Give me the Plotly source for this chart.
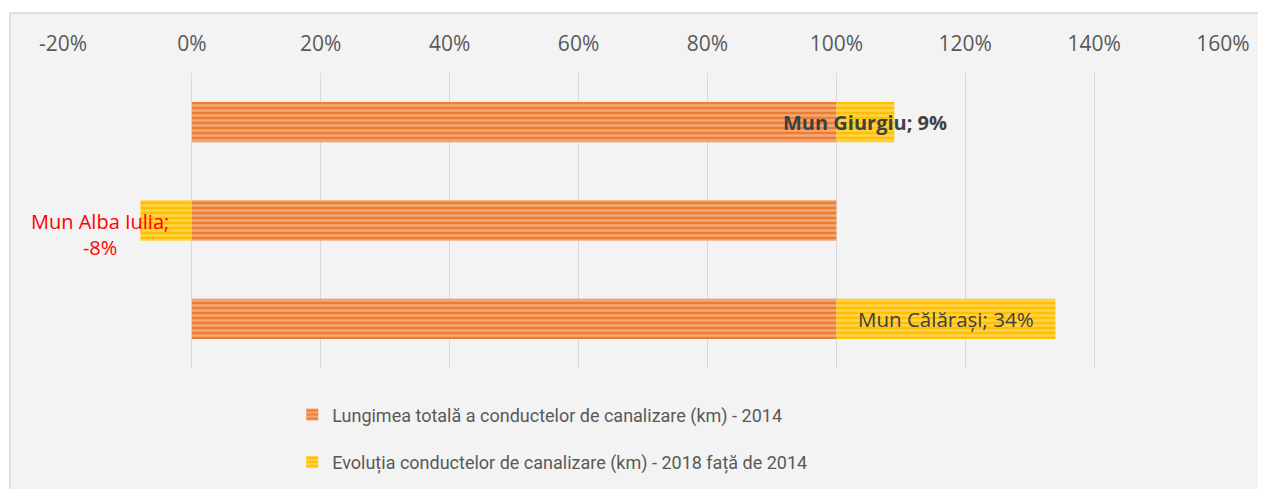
import plotly.graph_objects as go

# Date
orase = ["Mun Giurgiu", "Mun Alba Iulia", "Mun Călărași"]
lungime_2014 = [1.00, 1.00, 1.00]
evolutie_2018 = [0.09, -0.08, 0.34]
etichete = ["Mun Giurgiu; 9%", "Mun Alba Iulia;<br>-8%", "Mun Călărași; 34%"]
tick_vals = [-0.2, 0.0, 0.2, 0.4, 0.6, 0.8, 1.0, 1.2, 1.4, 1.6]
tick_text = [f"{round(v * 100)}%" for v in tick_vals]

ORANGE = "#ED7D31"
YELLOW = "#FFC000"
FONT = "Open Sans"
LEG_FONT = "Roboto"

fig = go.Figure()
fig.add_trace(go.Bar(
    y=orase, x=lungime_2014, orientation="h",
    name="Lungimea totală a conductelor de canalizare (km) - 2014",
    legendgroup="a",
    marker=dict(color=ORANGE, line=dict(width=0),
                pattern=dict(shape="-", fgcolor="#FBD5BC", size=5, solidity=0.5)),
))
fig.add_trace(go.Bar(
    y=orase, x=evolutie_2018, orientation="h",
    name="Evoluția conductelor de canalizare (km) - 2018 față de 2014",
    legendgroup="b",
    marker=dict(color=YELLOW, line=dict(width=0),
                pattern=dict(shape="-", fgcolor="#FFE699", size=5, solidity=0.5)),
))

# etichete de date
stiluri = [
    dict(color="#404040", size=20, weight="bold"),
    dict(color="#FF0000", size=20),
    dict(color="#404040", size=20.5),
]
for i, (oras, baza, ev, txt) in enumerate(zip(orase, lungime_2014, evolutie_2018, etichete)):
    if ev >= 0:
        fig.add_annotation(x=baza + ev / 2, y=oras, text=txt, showarrow=False,
                           xanchor="center", font=dict(family=FONT, **stiluri[i]))
    else:
        fig.add_annotation(x=ev, y=oras, text=txt, showarrow=False, xanchor="center",
                           xshift=-40, yshift=-14, align="center",
                           font=dict(family=FONT, **stiluri[i]))

# chenarul graficului
fig.add_shape(type="rect", xref="paper", yref="paper",
              x0=-0.0457, x1=1.06, y0=-0.45, y1=1.2034,
              fillcolor="#F3F3F3", line=dict(color="#D9D9D9", width=1.5), layer="below")

fig.update_layout(
    width=1258, height=481,
    margin=dict(l=55, r=43, t=65, b=121, autoexpand=False),
    barmode="relative", bargap=0.59,
    paper_bgcolor="white", plot_bgcolor="#EEEEEE",
    showlegend=True,
    legend=dict(orientation="v", x=0.1976, xanchor="left", y=-0.096, yanchor="top",
                font=dict(family=LEG_FONT, size=18, color="#595959"),
                tracegroupgap=21, bgcolor="rgba(0,0,0,0)"),
    xaxis=dict(side="top", range=[-0.2, 1.6], tickvals=tick_vals, ticktext=tick_text,
               showgrid=True, gridcolor="#D9D9D9", gridwidth=1, zeroline=False,
               showline=False, ticks="", ticklabelstandoff=17,
               tickfont=dict(family=FONT, size=21, color="#595959")),
    yaxis=dict(autorange="reversed", showticklabels=False, showgrid=False,
               zeroline=False, showline=False, ticks=""),
)

fig.write_html("out.html")
